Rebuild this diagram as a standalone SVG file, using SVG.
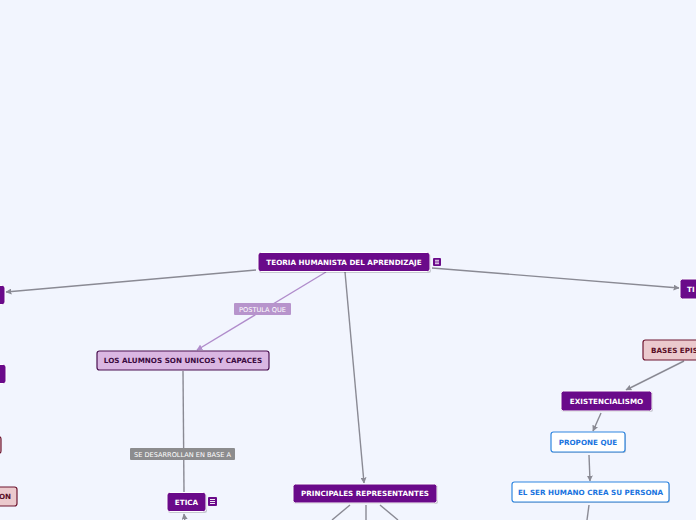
<svg xmlns="http://www.w3.org/2000/svg" width="696" height="520" viewBox="0 0 696 520">
<defs>
<style>
.bg{fill:#f2f5fe}
.np{fill:#6a0a8a;stroke:#ffffff;stroke-width:1}
.nl{fill:#dab6e2;stroke:#4a1050;stroke-width:1.2}
.nr{fill:#ebc9cd;stroke:#6e1630;stroke-width:1.2}
.nb{fill:#ffffff;stroke:#2f86e0;stroke-width:1.2}
.sh{fill:#000;opacity:0.18}
.tw{font-family:"DejaVu Sans",Verdana,sans-serif;font-weight:bold;font-size:7.2px;fill:#ffffff;text-anchor:middle}
.td{font-family:"DejaVu Sans",Verdana,sans-serif;font-weight:bold;font-size:7.2px;fill:#3a0a40;text-anchor:middle}
.tr{font-family:"DejaVu Sans",Verdana,sans-serif;font-weight:bold;font-size:7.2px;fill:#5a1028;text-anchor:middle}
.tb{font-family:"DejaVu Sans",Verdana,sans-serif;font-weight:bold;font-size:7.2px;fill:#1a74e0;text-anchor:middle}
.lt{font-family:"DejaVu Sans",Verdana,sans-serif;font-size:6.6px;fill:#ffffff;text-anchor:middle}
.c{fill:none;stroke:#8a8a94;stroke-width:1.4}
.cp{fill:none;stroke:#b08ccb;stroke-width:1.4}
.note{fill:#6a0a8a}
.nt{stroke:#ffffff;stroke-width:0.9}
</style>
<marker id="ag" viewBox="0 0 10 10" refX="9" refY="5" markerWidth="6" markerHeight="6" orient="auto" markerUnits="userSpaceOnUse"><path d="M0,0 L10,5 L0,10 z" fill="#8a8a94"/></marker>
<marker id="ap" viewBox="0 0 10 10" refX="9" refY="5" markerWidth="6" markerHeight="6" orient="auto" markerUnits="userSpaceOnUse"><path d="M0,0 L10,5 L0,10 z" fill="#b08ccb"/></marker>
</defs>
<rect class="bg" x="0" y="0" width="696" height="520"/>
<g id="connectors">
<line class="c" x1="256" y1="270" x2="6" y2="292" marker-end="url(#ag)"/>
<line class="c" x1="432" y1="268" x2="679" y2="288" marker-end="url(#ag)"/>
<line class="cp" x1="326" y1="272" x2="197" y2="350" marker-end="url(#ap)"/>
<line class="c" x1="345" y1="272" x2="364" y2="483" marker-end="url(#ag)"/>
<line class="c" x1="183" y1="371" x2="184" y2="492"/>
<line class="c" x1="185" y1="522" x2="184" y2="514" marker-end="url(#ag)"/>
<line class="c" x1="350" y1="505" x2="332" y2="520"/>
<line class="c" x1="366" y1="505" x2="366" y2="520"/>
<line class="c" x1="380" y1="505" x2="398" y2="520"/>
<line class="c" x1="684" y1="361" x2="626" y2="390" marker-end="url(#ag)"/>
<line class="c" x1="601" y1="413" x2="593" y2="431" marker-end="url(#ag)"/>
<line class="c" x1="589" y1="455" x2="590" y2="481" marker-end="url(#ag)"/>
<line class="c" x1="589" y1="505" x2="587" y2="520"/>
<g id="lbl-postula"><rect x="234" y="303" width="57" height="12" rx="1" fill="#b794cc"/><text class="lt" x="262.5" y="311.5">POSTULA QUE</text></g>
<g id="lbl-desarrollan"><rect x="130" y="448" width="105" height="12" rx="1" fill="#8c8c8e"/><text class="lt" x="182.5" y="456.5">SE DESARROLLAN EN BASE A</text></g>
</g>
<g id="n-central"><rect class="sh" x="259" y="254" width="172" height="19" rx="2.5"/><rect class="np" x="258" y="252.5" width="172" height="19" rx="2.5"/><text class="tw" x="344" y="264.5">TEORIA HUMANISTA DEL APRENDIZAJE</text>
<rect class="note" x="433" y="258" width="8" height="8" rx="1"/><path class="nt" d="M435,260.3H439M435,262H439M435,263.7H439"/></g>
<g id="n-left1"><rect class="np" x="-40" y="285.5" width="45" height="19" rx="2.5"/></g>
<g id="n-left2"><rect class="np" x="-40" y="364.5" width="46" height="19" rx="2.5"/></g>
<g id="n-left3"><rect class="nr" x="-40" y="436.5" width="41" height="17" rx="2.5"/></g>
<g id="n-left4"><rect class="nr" x="-40" y="487" width="57" height="19" rx="2.5"/><text class="tr" x="5" y="499.3">ON</text></g>
<g id="n-alumnos"><rect class="nl" x="97" y="351" width="172" height="19" rx="2.5"/><text class="td" x="183" y="363.3">LOS ALUMNOS SON UNICOS Y CAPACES</text></g>
<g id="n-etica"><rect class="sh" x="168" y="494" width="39" height="19" rx="2.5"/><rect class="np" x="167" y="492.5" width="39" height="19" rx="2.5"/><text class="tw" x="186.5" y="504.8">ETICA</text>
<rect class="note" x="208" y="497" width="9" height="9" rx="1"/><path class="nt" d="M210,499.5H215M210,501.5H215M210,503.5H215"/></g>
<g id="n-representantes"><rect class="sh" x="294" y="485" width="144" height="19" rx="2.5"/><rect class="np" x="293" y="484" width="144" height="19" rx="2.5"/><text class="tw" x="365" y="496.3">PRINCIPALES REPRESENTANTES</text></g>
<g id="n-ti"><rect class="np" x="680" y="279" width="60" height="20" rx="2.5"/><text class="tw" x="687" y="291.5" style="text-anchor:start">TI</text></g>
<g id="n-bases"><rect class="nr" x="643" y="340" width="80" height="20" rx="2.5"/><text class="tr" x="651" y="352.5" style="text-anchor:start">BASES EPIS</text></g>
<g id="n-existencialismo"><rect class="sh" x="562" y="392" width="91" height="20" rx="2.5"/><rect class="np" x="561" y="391" width="91" height="20" rx="2.5"/><text class="tw" x="606.5" y="403.5">EXISTENCIALISMO</text></g>
<g id="n-propone"><rect class="sh" x="552" y="433" width="74" height="20" rx="2.5"/><rect class="nb" x="551" y="432" width="74" height="20" rx="2.5"/><text class="tb" x="588" y="444.5">PROPONE QUE</text></g>
<g id="n-ser"><rect class="sh" x="513" y="483" width="157" height="20" rx="2.5"/><rect class="nb" x="512" y="482" width="157" height="20" rx="2.5"/><text class="tb" x="590.5" y="494.5">EL SER HUMANO CREA SU PERSONA</text></g>
</svg>
